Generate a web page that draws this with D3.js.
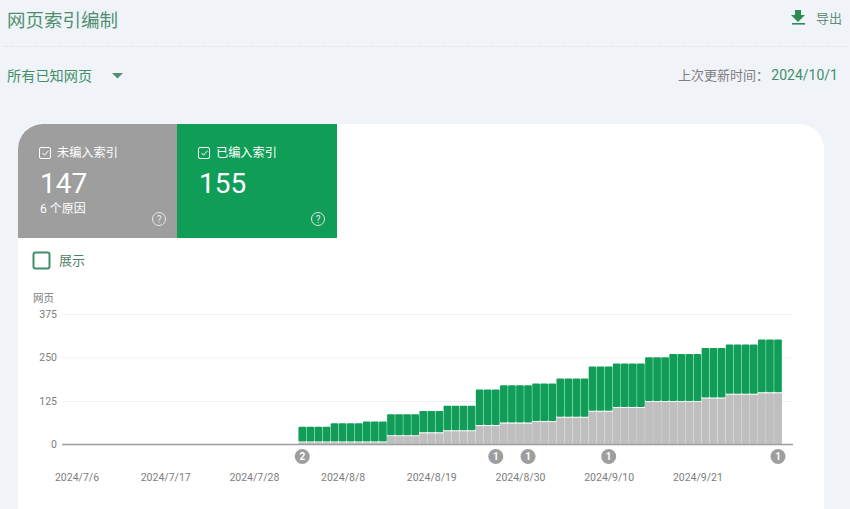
<!DOCTYPE html>
<html>
<head>
<meta charset="utf-8">
<script src="https://cdn.jsdelivr.net/npm/d3@7"></script>
<style>
  html, body { margin: 0; padding: 0; background: #f0f4f9; overflow: hidden; }
  svg { display: block; }
  text { font-family: Roboto, "Noto Sans CJK SC", sans-serif; }
</style>
</head>
<body>
<div id="chart"></div>
<script>
const firstDay = '2024-08-03';
const notIndexed = [
  6, 6, 6, 6, 6, 6, 6, 6, 6, 6, 6,
  24, 24, 24, 24, 32, 32, 32,
  38, 38, 38, 38, 53, 53, 53,
  60, 60, 60, 60, 65, 65, 65,
  77, 77, 77, 77, 94, 94, 94,
  105, 105, 105, 105, 122, 122, 122,
  122, 122, 122, 122, 132, 132, 132,
  143, 143, 143, 143, 147, 147, 147
];
const indexed = [
  45, 45, 45, 45, 55, 55, 55, 55, 60, 60, 60,
  63, 63, 63, 63, 64, 64, 64,
  73, 73, 73, 73, 105, 105, 105,
  110, 110, 110, 110, 110, 110, 110,
  113, 113, 113, 113, 130, 130, 130,
  128, 128, 128, 128, 129, 129, 129,
  138, 138, 138, 138, 145, 145, 145,
  144, 144, 144, 144, 155, 155, 155
];
const xTickLabels = ['2024/7/6', '2024/7/17', '2024/7/28', '2024/8/8', '2024/8/19', '2024/8/30', '2024/9/10', '2024/9/21'];
const yTicks = [0, 125, 250, 375];
const annotationDates = ['2024-08-03', '2024-08-27', '2024-08-31', '2024-09-10', '2024-10-01'];
const annotationCounts = [2, 1, 1, 1, 1];

const GREEN = '#0f9d58';
const BAR_GRAY = '#bfbfbf';
const PANEL_GRAY = '#9e9e9e';
const TEXT_GREEN = '#3f8f68';
const TEXT_GRAY = '#7d7d7d';

const parseDay = d3.timeParse('%Y-%m-%d');
const parseTick = d3.timeParse('%Y/%-m/%-d');
const formatTick = d3.timeFormat('%Y/%-m/%-d');

const width = 850;
const height = 509;

const svg = d3.select('#chart').append('svg')
  .attr('width', width)
  .attr('height', height)
  .attr('viewBox', `0 0 ${width} ${height}`);

// header
svg.append('text').attr('x', 7).attr('y', 27).attr('font-size', 18.500).attr('fill', '#4f8f70').text('网页索引编制');
svg.append('line')
  .attr('x1', 4).attr('x2', width).attr('y1', 46.5).attr('y2', 46.5)
  .attr('stroke', '#d6d9d8').attr('stroke-dasharray', '1 2');
svg.append('text').attr('x', 7).attr('y', 81).attr('font-size', 14.200).attr('fill', TEXT_GREEN).text('所有已知网页');
svg.append('path').attr('d', 'M112,73h11l-5.5,5.5z').attr('fill', '#4f8f70');

// export icon
svg.append('path').attr('d', 'M795,10h6v5h4l-7,7l-7,-7h4z').attr('fill', '#2e8b57');
svg.append('rect').attr('x', 792).attr('y', 23).attr('width', 13).attr('height', 1.6).attr('fill', '#2e8b57');
svg.append('text').attr('x', 816).attr('y', 23).attr('font-size', 13).attr('fill', '#5f8f78').text('导出');

svg.append('text').attr('x', 769).attr('y', 80).attr('text-anchor', 'end').attr('font-size', 13).attr('fill', TEXT_GRAY).text('上次更新时间：');
svg.append('text').attr('x', 838).attr('y', 80).attr('text-anchor', 'end').attr('font-size', 14).attr('fill', TEXT_GREEN).text('2024/10/1');

// card
svg.append('path').attr('d', 'M18,509V149a25,25 0 0 1 25,-25H799a25,25 0 0 1 25,25V509z').attr('fill', '#fff');
svg.append('path').attr('d', 'M18,238V149a25,25 0 0 1 25,-25H177V238z').attr('fill', PANEL_GRAY);
svg.append('rect').attr('x', 177).attr('y', 124).attr('width', 160).attr('height', 114).attr('fill', GREEN);

function drawPanel(x0, label, value, sub) {
  const g = svg.append('g').attr('transform', `translate(${x0},0)`);
  g.append('rect').attr('x', 21.500).attr('y', 147.500).attr('width', 11).attr('height', 11).attr('rx', 1.5)
    .attr('fill', 'none').attr('stroke', '#fff');
  g.append('path').attr('d', 'M24.500,153l2,2.200l4,-4.500').attr('fill', 'none').attr('stroke', '#fff');
  g.append('text').attr('x', 39).attr('y', 157).attr('font-size', 12.200).attr('fill', '#fff').text(label);
  g.append('text').attr('x', 22).attr('y', 193).attr('font-size', 28).attr('fill', '#fff').text(value);
  if (sub) g.append('text').attr('x', 22).attr('y', 213).attr('font-size', 12).attr('fill', '#fff').text(sub);
  g.append('circle').attr('cx', 141).attr('cy', 219).attr('r', 6.500).attr('fill', 'none').attr('stroke', '#e8e8e8');
  g.append('text').attr('x', 141).attr('y', 222.500).attr('text-anchor', 'middle').attr('font-size', 10).attr('fill', '#e8e8e8').text('?');
}
drawPanel(18, '未编入索引', '147', '6 个原因');
drawPanel(177, '已编入索引', '155', null);

svg.append('rect').attr('x', 33.500).attr('y', 252.500).attr('width', 16).attr('height', 16).attr('rx', 2)
  .attr('fill', 'none').attr('stroke', '#3f8f68').attr('stroke-width', 2);
svg.append('text').attr('x', 59).attr('y', 265).attr('font-size', 13).attr('fill', '#4f7f68').text('展示');

// chart
const days = d3.timeDay.range(parseDay(firstDay), d3.timeDay.offset(parseDay(firstDay), notIndexed.length));
const rows = days.map((d, i) => ({ date: d, notIndexed: notIndexed[i], indexed: indexed[i] }));

const x = d3.scaleTime()
  .domain([parseTick(xTickLabels[0]), days[days.length - 1]])
  .range([76.500, 778]);
const y = d3.scaleLinear().domain([0, 375]).range([444.500, 314]);
const step = x(d3.timeDay.offset(x.domain()[0], 1)) - x(x.domain()[0]);

const plotLeft = 62;
const plotRight = 793;

svg.append('text').attr('x', 33).attr('y', 302).attr('font-size', 10.500).attr('fill', TEXT_GRAY).text('网页');

const yAxis = svg.append('g')
  .attr('transform', `translate(${plotLeft},0)`)
  .call(d3.axisLeft(y).tickValues(yTicks).tickSize(-(plotRight - plotLeft)).tickPadding(5));
yAxis.select('.domain').remove();
yAxis.selectAll('.tick line').attr('stroke', '#eef1f5');
yAxis.selectAll('.tick text').attr('font-size', 10.500).attr('fill', TEXT_GRAY)
  .style('font-family', 'Roboto, sans-serif');

const series = d3.stack().keys(['notIndexed', 'indexed'])(rows);
const fills = { notIndexed: BAR_GRAY, indexed: GREEN };

svg.append('g').selectAll('g')
  .data(series)
  .join('g')
  .attr('fill', d => fills[d.key])
  .selectAll('rect')
  .data(d => d.map(v => ({ key: d.key, v })))
  .join('rect')
  .attr('x', d => x(d.v.data.date) - step / 2 + (d.key === 'indexed' ? 0.2 : 0.1))
  .attr('width', d => step - (d.key === 'indexed' ? 0.4 : 0.2))
  .attr('y', d => y(d.v[1]))
  .attr('height', d => y(d.v[0]) - y(d.v[1]) - (d.key === 'indexed' ? 1 : 0))
  .attr('rx', d => d.key === 'indexed' ? 1 : 0);

const xAxis = svg.append('g')
  .attr('transform', `translate(0,${y(0)})`)
  .call(d3.axisBottom(x)
    .tickValues(xTickLabels.map(parseTick))
    .tickFormat(formatTick)
    .tickSize(0)
    .tickPadding(29));
xAxis.select('.domain').attr('d', `M${plotLeft},0H${plotRight}`).attr('stroke', '#a0a0a0').attr('stroke-width', 1.500);
xAxis.selectAll('.tick text').attr('font-size', 10.500).attr('fill', TEXT_GRAY)
  .style('font-family', 'Roboto, sans-serif');

const marks = svg.append('g').selectAll('g')
  .data(annotationDates.map((d, i) => ({ date: parseDay(d), count: annotationCounts[i] })))
  .join('g')
  .attr('transform', d => `translate(${x(d.date)},456.500)`);
marks.append('circle').attr('r', 7.500).attr('fill', PANEL_GRAY);
marks.append('text')
  .attr('text-anchor', 'middle').attr('y', 3.500)
  .attr('font-size', 10).attr('font-weight', 700).attr('fill', '#fff')
  .text(d => d.count);
</script>
</body>
</html>
